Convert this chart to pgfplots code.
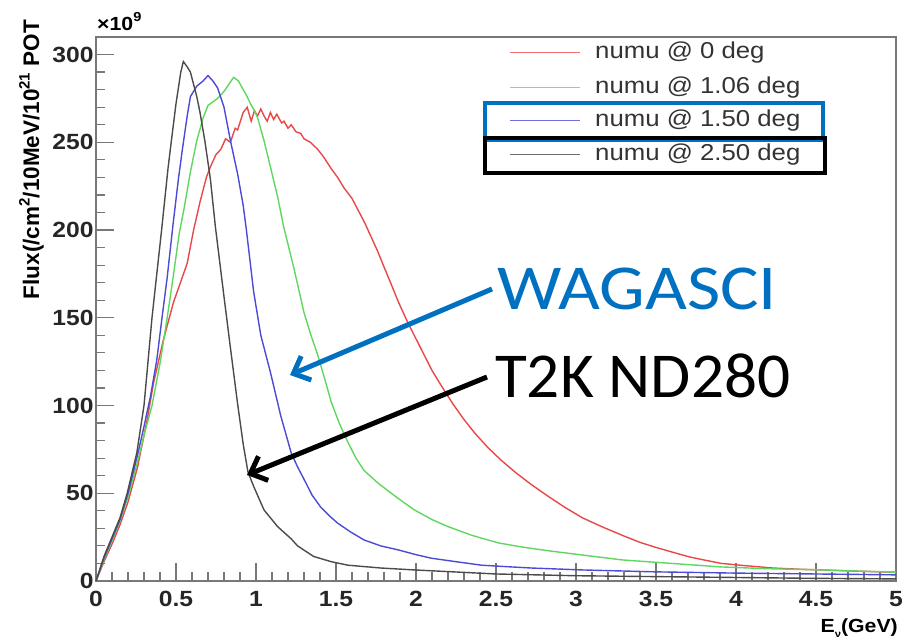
\documentclass[border=0pt]{standalone}
\usepackage{pgfplots}
\pgfplotsset{compat=1.18}
\usepackage{fontspec}
\setmainfont{Liberation Sans}[FakeStretch=1.12]
\newfontfamily\yfont{Liberation Sans}
\newfontfamily\calib{Carlito}
\usetikzlibrary{arrows.meta}
\definecolor{cred}{RGB}{232,72,72}
\definecolor{cgreen}{RGB}{95,215,95}
\definecolor{cblue}{RGB}{75,75,215}
\definecolor{cblack}{RGB}{75,75,75}
\definecolor{offblue}{RGB}{0,112,192}
\definecolor{framegray}{RGB}{120,120,120}
\begin{document}
\begin{tikzpicture}
\useasboundingbox (-96pt,-58pt) rectangle (817pt,581pt);
\begin{axis}[
  scale only axis, width=800pt, height=544pt,
  xmin=0, xmax=5, ymin=0, ymax=310,
  xtick={0,0.5,...,5}, ytick={0,50,...,300},
  minor x tick num=4, minor y tick num=4,
  xtick pos=bottom, ytick pos=left,
  major tick length=18pt, minor tick length=9pt,
  axis line style={framegray, line width=1.4pt},
  every tick/.style={framegray, line width=1.2pt},
  scaled y ticks=false,
  /pgf/number format/assume math mode=true,
  ticklabel style={font=\fontsize{22}{24}\selectfont\bfseries, text=black!85},
  xticklabel style={yshift=-7pt},
  yticklabel style={xshift=1pt},
  clip=false,
]
\addplot[cred, line width=1.4pt] coordinates {
(0,0) (0.05,11) (0.10,21) (0.15,32) (0.20,45) (0.26,65) (0.32,92) (0.36,113)
(0.42,137) (0.485,159) (0.57,181) (0.61,200) (0.65,216) (0.69,230) (0.715,236)
(0.75,243) (0.78,246) (0.81,252) (0.84,250) (0.87,258) (0.885,257) (0.92,267)
(0.945,270) (0.97,262) (0.99,268) (1.01,265) (1.03,269) (1.05,265) (1.07,262)
(1.09,267) (1.11,263) (1.13,266) (1.16,261) (1.175,262) (1.20,258) (1.22,260)
(1.25,256) (1.28,255) (1.30,252) (1.34,250) (1.385,246) (1.42,242) (1.47,235)
(1.51,230) (1.55,224) (1.60,218) (1.64,211) (1.68,204) (1.72,196) (1.76,188)
(1.80,179) (1.85,168) (1.89,159) (1.95,147) (2.00,138) (2.05,129) (2.10,120)
(2.16,111) (2.23,101) (2.30,92) (2.37,84) (2.45,76) (2.53,69) (2.62,62)
(2.72,55) (2.83,48) (2.93,42) (3.04,36) (3.16,31) (3.29,26) (3.40,22)
(3.49,19.4) (3.60,16.5) (3.71,13.7) (3.81,11.8) (3.91,10) (4.05,8.8)
(4.23,7.4) (4.40,6.7) (4.54,6.3) (4.75,5.6) (5.0,5)
};
\addplot[cgreen, line width=1.4pt] coordinates {
(0,0) (0.05,12) (0.10,23) (0.15,34) (0.20,48) (0.26,68) (0.30,83) (0.35,100)
(0.40,124) (0.445,150) (0.485,175) (0.52,198) (0.55,212) (0.59,233) (0.63,251)
(0.67,264) (0.70,271) (0.73,273) (0.76,275) (0.80,279) (0.83,283) (0.86,287)
(0.89,285) (0.92,280) (0.945,276) (0.965,272) (0.99,268) (1.01,264) (1.05,251)
(1.09,236) (1.135,219) (1.175,201) (1.235,179) (1.30,153) (1.34,141)
(1.385,129) (1.43,115) (1.47,102) (1.52,90) (1.575,79) (1.625,70) (1.675,63)
(1.76,56) (1.845,50) (1.92,45) (1.99,40.5) (2.10,35) (2.20,31) (2.35,26)
(2.515,21.7) (2.66,19.4) (2.83,17.2) (3.04,14.8) (3.29,12) (3.60,10)
(3.91,8) (4.20,7) (4.54,6.3) (5.0,5)
};
\addplot[cblue, line width=1.4pt] coordinates {
(0,0) (0.05,13) (0.10,24) (0.15,35) (0.20,50) (0.26,72) (0.30,88) (0.34,105)
(0.38,126) (0.414,151) (0.445,173) (0.48,202) (0.515,229) (0.54,246) (0.57,265)
(0.59,276) (0.63,282) (0.67,285) (0.70,288) (0.73,285) (0.76,281) (0.80,270)
(0.84,251) (0.885,232) (0.92,214) (0.94,200) (0.985,165) (1.03,140) (1.09,119)
(1.155,94) (1.22,73) (1.26,65) (1.30,58) (1.35,49) (1.405,42) (1.46,37)
(1.51,33) (1.59,28) (1.675,23.4) (1.78,20) (1.89,17.7) (2.0,15) (2.095,13)
(2.25,11) (2.41,9) (2.56,8.2) (2.72,7.4) (3.04,6.3) (3.5,5.2) (4.0,4.5)
(4.5,4) (5.0,3.5)
};
\addplot[cblack, line width=1.4pt] coordinates {
(0,0) (0.05,14) (0.10,25) (0.15,36) (0.195,50) (0.255,73) (0.30,100)
(0.35,150) (0.41,200) (0.45,235) (0.47,250) (0.50,272) (0.53,290) (0.546,296)
(0.57,293) (0.59,290) (0.63,276) (0.65,267) (0.68,251) (0.715,229) (0.746,202)
(0.80,162) (0.84,133) (0.885,101) (0.92,78) (0.95,62) (0.985,54) (1.05,40.5)
(1.135,31) (1.22,24) (1.26,20) (1.36,14) (1.47,11) (1.575,9) (1.78,7.4)
(1.99,6.3) (2.5,4) (3.0,3) (3.5,2.5) (4.0,2) (4.5,1.5) (5.0,1.2)
};
\end{axis}
% legend (drawn by hand)
\begin{scope}[every node/.style={anchor=west, inner sep=0pt, text=black!80, font=\fontsize{23}{25}\selectfont}]
\draw[cred!80!white, line width=1pt] (414pt,528pt) -- (484pt,528pt);
\node at (499pt,528pt) {numu @ 0 deg};
\draw[cgreen!80!white, line width=1pt] (414pt,493pt) -- (484pt,493pt);
\node at (499pt,493pt) {numu @ 1.06 deg};
\draw[cblue!80!white, line width=1pt] (414pt,460pt) -- (484pt,460pt);
\node at (499pt,460pt) {numu @ 1.50 deg};
\draw[cblack!80!white, line width=1pt] (414pt,426pt) -- (484pt,426pt);
\node at (499pt,426pt) {numu @ 2.50 deg};
\end{scope}
% x10^9 label
\node[anchor=base west, inner sep=0pt, font=\fontsize{19}{21}\selectfont\bfseries] at (1pt,550pt) {\textbf{×10}\raisebox{0.9ex}{\fontsize{13}{14}\selectfont 9}};
% y label
\node[rotate=90, anchor=south east, inner sep=0pt, font=\yfont\fontsize{22.5}{24}\selectfont\bfseries] at (-52pt,561pt) {Flux(/cm\raisebox{0.8ex}{\fontsize{15}{16}\selectfont 2}/10MeV/10\raisebox{0.8ex}{\fontsize{15}{16}\selectfont 21} POT};
% x label
\node[anchor=base east, inner sep=0pt, font=\fontsize{19}{21}\selectfont\bfseries] at (802pt,-52pt) {E\raisebox{-0.4ex}{\fontsize{10}{11}\selectfont ν}(GeV)};
% legend boxes
\draw[offblue, line width=4pt] (389pt,478pt) rectangle (727pt,441pt);
\draw[black, line width=4pt] (389pt,443pt) rectangle (729pt,408pt);
% annotations
\node[anchor=base west, inner sep=0pt, text=offblue, font=\calib\fontsize{64}{70}\selectfont] at (401pt,271pt) {\scalebox{1.13}[1]{WAGASCI}};
\node[anchor=base west, inner sep=0pt, text=black, font=\calib\fontsize{64}{70}\selectfont] at (399pt,183pt) {\scalebox{1.02}[1]{T2K ND280}};
\draw[offblue, line width=5pt, -{Straight Barb[length=14pt,width=26pt,line width=5pt]}] (396pt,292pt) -- (194pt,206pt);
\draw[black, line width=5pt, -{Straight Barb[length=14pt,width=26pt,line width=5pt]}] (391pt,204pt) -- (151pt,106pt);
\end{tikzpicture}
\end{document}
